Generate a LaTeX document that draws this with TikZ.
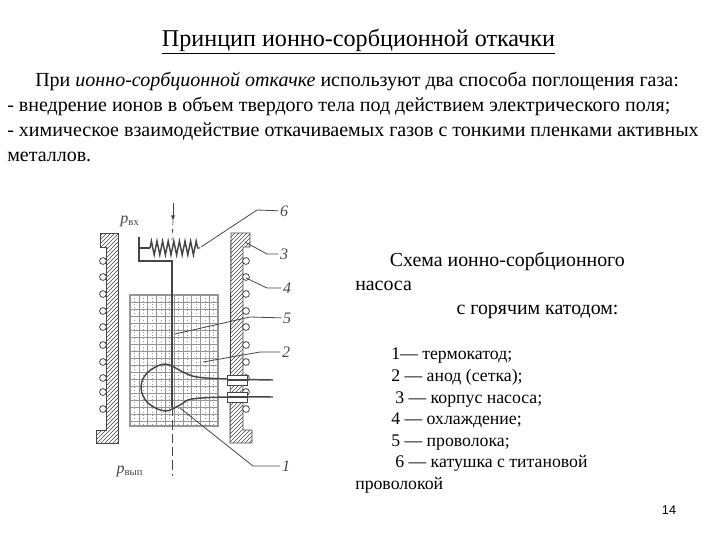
\documentclass[tikz,border=0pt]{standalone}
\usepackage{fontspec}
\setmainfont{Liberation Serif}
\newfontfamily\numfont{Liberation Sans}
\usetikzlibrary{patterns, decorations.pathmorphing}
\definecolor{ScanGray}{RGB}{70,70,70}
\definecolor{GridGray}{RGB}{150,150,150}

\begin{document}
\begin{tikzpicture}[
  x=0.75pt, y=-0.75pt,
  txt/.style={inner sep=0pt, align=left, anchor=north west},
  wall/.style={draw=ScanGray, line width=0.7pt, pattern=north east lines, pattern color=ScanGray},
  coil/.style={draw=ScanGray, fill=white, line width=0.6pt},
  leader/.style={draw=ScanGray, line width=0.6pt},
  wire/.style={draw=ScanGray, line width=0.9pt},
  tag/.style={font=\itshape\fontsize{12}{14}\selectfont, text=ScanGray, inner sep=1pt}
]
  \useasboundingbox (0,0) rectangle (720,540);

  % Text
  \node[inner sep=0pt, font=\fontsize{18.1}{20}\selectfont] (title) at (358.5,42) {\underline{Принцип ионно-сорбционной откачки}};
  \node[txt, font=\fontsize{15}{18.8}\selectfont] (intro) at (7,72) {\hspace*{21pt}При \textit{ионно-сорбционной откачке} используют два способа поглощения газа:\\
    - внедрение ионов в объем твердого тела под действием электрического поля;\\
    - химическое взаимодействие откачиваемых газов с тонкими пленками активных\\
    металлов.};
  \node[txt, font=\fontsize{14.9}{18}\selectfont] (head) at (355,252.5) {\hspace*{26pt}Схема ионно-сорбционного\\
    насоса\\
    \hspace*{76pt}с горячим катодом:};
  \node[txt, font=\fontsize{13.3}{16.2}\selectfont] (legend) at (355,348) {\hspace*{27pt}1— термокатод;\\
    \hspace*{27pt}2 — анод (сетка);\\
    \hspace*{30pt}3 — корпус насоса;\\
    \hspace*{27pt}4 — охлаждение;\\
    \hspace*{27pt}5 — проволока;\\
    \hspace*{30pt}6 — катушка с титановой\\
    проволокой};
  \node[inner sep=0pt, font=\numfont\fontsize{9.5}{11}\selectfont] (pagenum) at (669,510) {14};

  % Grid of the anode
  \foreach \gx in {130,138.8,...,218} {
    \draw[GridGray, line width=0.4pt] (\gx,295) -- (\gx,426);
    \draw[GridGray, line width=0.3pt, dotted] (\gx+4.4,295) -- (\gx+4.4,426);
  }
  \foreach \gy in {295,302,...,426} {
    \draw[GridGray, line width=0.4pt] (130,\gy) -- (218,\gy);
  }
  \draw[GridGray, line width=0.8pt] (130,295) rectangle (218,426);

  % Body
  \path[wall] (100,233) -- (118,233) -- (118,443) -- (96,443) -- (96,430) -- (106,430) -- (106,247) -- (100,247) -- cycle;
  \path[wall] (231,233) -- (250,233) -- (250,247) -- (243,247) -- (243,430) -- (252,430) -- (252,443) -- (230,443) -- cycle;

  % Cooling coil
  \foreach \yy in {261,277,294,311,327,345,362,378,392,409} {
    \path[coil] (103,\yy) circle (3.4);
    \path[coil] (246,\yy) circle (3.4);
  }

  % Axis
  \coordinate (axtop) at (173,203);
  \coordinate (axarrow) at (173,221);
  \coordinate (axspring) at (172,240);
  \coordinate (axbend) at (172,261);
  \coordinate (axend) at (172,407);
  \coordinate (axbot) at (172,476);
  \draw[ScanGray, line width=0.5pt, -latex] (axtop) -- (axarrow);
  \draw[ScanGray, line width=0.5pt, dashed] (axarrow) -- (axspring);
  \draw[ScanGray, line width=0.6pt, dash pattern=on 7pt off 3pt] (axend) -- (axbot);

  % Titanium wire holder and spring
  \coordinate (holdtop) at (139,237);
  \coordinate (holdbot) at (139,261);
  \coordinate (holdmid) at (139,248);
  \coordinate (sprA) at (150,248);
  \coordinate (sprB) at (200,248);
  \draw[wire] (holdtop) -- (holdbot) -- (axbend) -- (axend);
  \draw[wire] (holdmid) -- (sprA);
  \draw[wire, line width=1.1pt, decorate, decoration={zigzag, amplitude=5.2pt, segment length=4.2pt}] (sprA) -- (sprB);

  % Thermocathode
  \draw[wire, line width=1.1pt] plot[smooth, tension=0.6] coordinates {(273,380) (227,379) (197,377) (183,372) (165,364) (147,373) (141,388) (148,403) (165,411) (180,405) (192,399) (227,397) (273,397)};
  \node[draw=ScanGray, fill=white, minimum width=15pt, minimum height=7.5pt, inner sep=0pt] (feedA) at (237,380) {};
  \node[draw=ScanGray, fill=white, minimum width=15pt, minimum height=7.5pt, inner sep=0pt] (feedB) at (237,397) {};
  \draw[wire, line width=1.1pt] (feedA.west) -- (feedA.east);
  \draw[wire, line width=1.1pt] (feedB.west) -- (feedB.east);

  % Pressures
  \node[font=\itshape\fontsize{12}{14}\selectfont, text=ScanGray, inner sep=0pt] (pin) at (130,221) {p\textsubscript{\upshape вх}};
  \node[font=\itshape\fontsize{12}{14}\selectfont, text=ScanGray, inner sep=0pt] (pout) at (130,471) {p\textsubscript{\upshape вып}};

  % Labels
  \node[tag] (lab6) at (284,211) {6};
  \node[tag] (lab3) at (284,254) {3};
  \node[tag] (lab4) at (287,288) {4};
  \node[tag] (lab5) at (287,318) {5};
  \node[tag] (lab2) at (286,352) {2};
  \node[tag] (lab1) at (286,466) {1};
  \coordinate (p6) at (201,247);
  \coordinate (k6) at (257,210);
  \coordinate (p3) at (245,242);
  \coordinate (k3) at (267,254);
  \coordinate (p4) at (246,278);
  \coordinate (k4) at (267,288);
  \coordinate (p5) at (175,334);
  \coordinate (k5) at (250,317);
  \coordinate (p2) at (203,362);
  \coordinate (k2) at (260,352);
  \coordinate (p1) at (180,408);
  \coordinate (k1) at (253,466);
  \draw[leader] (p6) -- (k6) -- (lab6);
  \draw[leader] (p3) -- (k3) -- (lab3);
  \draw[leader] (p4) -- (k4) -- (lab4);
  \draw[leader] (p5) -- (k5) -- (lab5);
  \draw[leader] (p2) -- (k2) -- (lab2);
  \draw[leader] (p1) -- (k1) -- (lab1);
\end{tikzpicture}
\end{document}
